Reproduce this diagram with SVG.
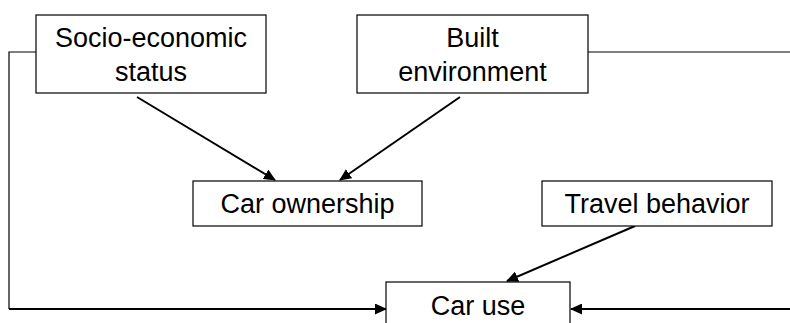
<svg xmlns="http://www.w3.org/2000/svg" width="790" height="323" viewBox="0 0 790 323">
<style>
.box{fill:#fff;stroke:#000;stroke-width:1.2}
.t{font-family:"Liberation Sans",Arial,sans-serif;font-size:27px;fill:#000;text-anchor:middle}
.c{fill:none;stroke:#000;stroke-width:2}
.thin{fill:none;stroke:#000;stroke-width:1.2}
</style>
<defs>
<marker id="ah" markerWidth="12" markerHeight="11" refX="11" refY="5.5" orient="auto" markerUnits="userSpaceOnUse">
<path d="M0,0 L12,5.5 L0,11 Z" fill="#000"/>
</marker>
</defs>
<g id="connectors">
<polyline class="thin" points="36,52 9,52 9,309"/>
<line class="c" x1="9" y1="309" x2="386" y2="309" marker-end="url(#ah)"/>
<line class="thin" x1="588" y1="52" x2="790" y2="52"/>
<line class="c" x1="790" y1="309" x2="571" y2="309" marker-end="url(#ah)"/>
<line class="c" x1="137" y1="97" x2="275" y2="180" marker-end="url(#ah)"/>
<line class="c" x1="460" y1="97" x2="340" y2="180" marker-end="url(#ah)"/>
<line class="c" x1="635" y1="226" x2="507" y2="281" marker-end="url(#ah)"/>
</g>
<g id="socio">
<rect class="box" x="36" y="15" width="230" height="78"/>
<text class="t" x="151" y="47">Socio-economic</text>
<text class="t" x="151" y="81">status</text>
</g>
<g id="built">
<rect class="box" x="357" y="15" width="231" height="78"/>
<text class="t" x="472.5" y="47">Built</text>
<text class="t" x="472.5" y="81">environment</text>
</g>
<g id="carownership">
<rect class="box" x="193" y="181" width="229" height="45"/>
<text class="t" x="307.5" y="213">Car ownership</text>
</g>
<g id="travel">
<rect class="box" x="542" y="181" width="230" height="45"/>
<text class="t" x="657" y="213">Travel behavior</text>
</g>
<g id="caruse">
<rect class="box" x="386" y="282" width="184" height="50"/>
<text class="t" x="478" y="315">Car use</text>
</g>
</svg>
